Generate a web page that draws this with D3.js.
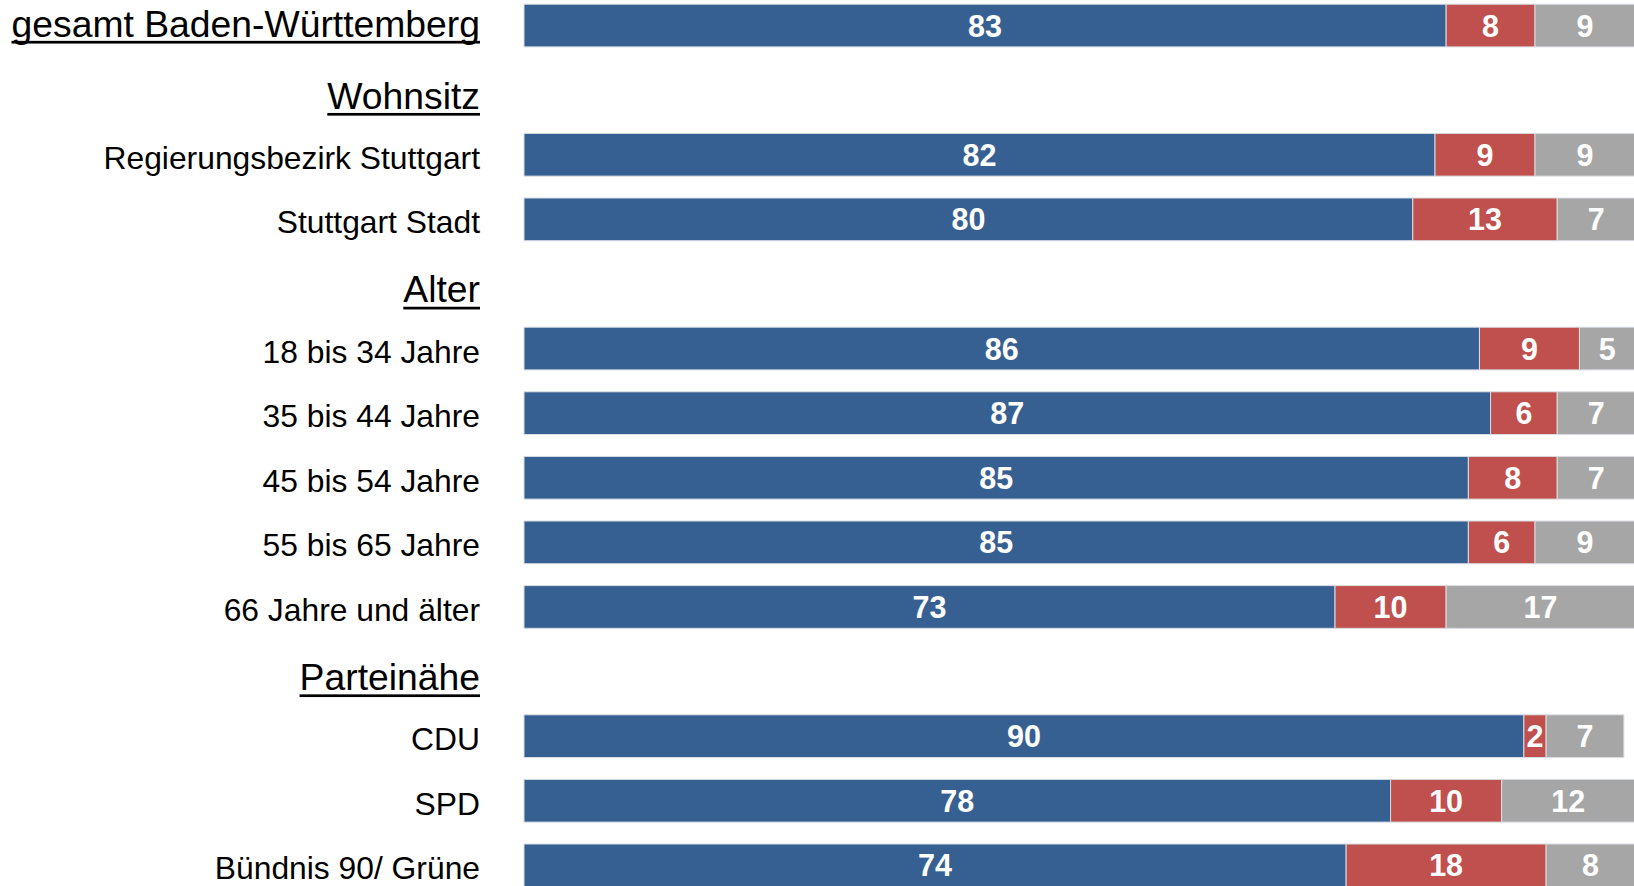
<!DOCTYPE html>
<html>
<head>
<meta charset="utf-8">
<script src="https://cdn.jsdelivr.net/npm/d3@7"></script>
<style>
  html, body { margin: 0; padding: 0; background: #fff; overflow: hidden; }
  svg { display: block; font-family: "Liberation Sans", Arial, sans-serif; }
</style>
</head>
<body>
<svg id="chart" width="1634" height="886"></svg>
<script>
// ---- data ----
const categories = [
  "gesamt Baden-Württemberg",
  "Wohnsitz",
  "Regierungsbezirk Stuttgart",
  "Stuttgart Stadt",
  "Alter",
  "18 bis 34 Jahre",
  "35 bis 44 Jahre",
  "45 bis 54 Jahre",
  "55 bis 65 Jahre",
  "66 Jahre und älter",
  "Parteinähe",
  "CDU",
  "SPD",
  "Bündnis 90/ Grüne"
];
const rowTypes = ["total","header","row","row","header","row","row","row","row","row","header","row","row","row"];
const seriesNames = ["blau", "rot", "grau"];
const blueValues = [83, null, 82, 80, null, 86, 87, 85, 85, 73, null, 90, 78, 74];
const redValues  = [8,  null, 9, 13, null, 9, 6, 8, 6, 10, null, 2, 10, 18];
const greyValues = [9,  null, 9, 7, null, 5, 7, 7, 9, 17, null, 7, 12, 8];
const colors = ["#376092", "#c0504d", "#a6a6a6"];

// ---- layout ----
const svg = d3.select("#chart");
const x = d3.scaleLinear().domain([0, 100]).range([524, 1635]);
const y = d3.scaleBand().domain(categories).range([4.2, 886.7]).paddingInner(0.339).paddingOuter(0);

const rows = categories.map((c, i) => ({
  cat: c, type: rowTypes[i],
  vals: [blueValues[i], redValues[i], greyValues[i]]
}));

// bars
rows.filter(r => r.type !== "header").forEach(r => {
  const stack = [];
  let acc = 0;
  r.vals.forEach((v, k) => { stack.push({k, v, x0: acc, x1: acc + v}); acc += v; });
  const g = svg.append("g");
  g.selectAll("rect").data(stack).join("rect")
    .attr("x", d => x(d.x0))
    .attr("y", y(r.cat))
    .attr("width", d => x(d.x1) - x(d.x0))
    .attr("height", y.bandwidth())
    .attr("fill", d => colors[d.k])
    .attr("stroke", "#d9dde3")
    .attr("stroke-width", 1);
  g.selectAll("text").data(stack).join("text")
    .attr("x", d => (x(d.x0) + x(d.x1)) / 2)
    .attr("y", y(r.cat) + y.bandwidth() / 2 + 11)
    .attr("text-anchor", "middle")
    .attr("fill", "#fff")
    .attr("font-weight", "bold")
    .attr("font-size", 30.5)
    .text(d => d.v);
});

// labels
const labelStyle = {
  total:  {size: 37.3, dy: 11,   underline: true},
  header: {size: 37.3, dy: 18.5, underline: true},
  row:    {size: 31.8, dy: 14,   underline: false}
};
rows.forEach(r => {
  const st = labelStyle[r.type];
  const by = y(r.cat) + y.bandwidth() / 2 + st.dy;
  const t = svg.append("text")
    .attr("x", 480)
    .attr("y", by)
    .attr("text-anchor", "end")
    .attr("font-size", st.size)
    .attr("fill", "#000")
    .text(r.cat);
  if (st.underline) {
    const w = t.node().getComputedTextLength();
    svg.append("rect")
      .attr("x", 480 - w)
      .attr("y", by + 4.3)
      .attr("width", w)
      .attr("height", 2.7)
      .attr("fill", "#000");
  }
});
</script>
</body>
</html>
